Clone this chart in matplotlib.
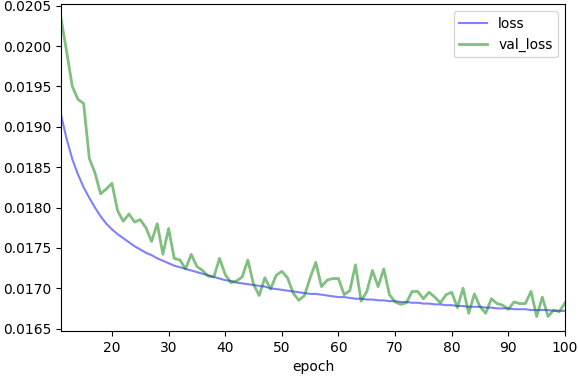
import matplotlib
matplotlib.use("Agg")
import matplotlib.pyplot as plt
import numpy as np

# epochs shown in the plot
epochs = list(range(11, 101))

# training loss (smooth curve)
loss = [
    0.01915, 0.01885, 0.01860, 0.01841, 0.01825, 0.01812, 0.01800, 0.01789, 0.01780, 0.01773,
    0.01767, 0.01762, 0.01757, 0.01752, 0.01748, 0.01744, 0.01741, 0.01737, 0.01734, 0.01731,
    0.01728, 0.01726, 0.01724, 0.01722, 0.01720, 0.01718, 0.01716, 0.01714, 0.01712, 0.01710,
    0.01709, 0.01707, 0.01706, 0.01705, 0.01704, 0.01703, 0.01702, 0.01700, 0.01699, 0.01698,
    0.01697, 0.01696, 0.01695, 0.01694, 0.01693, 0.01693, 0.01692, 0.01691, 0.01690, 0.01689,
    0.01689, 0.01688, 0.01687, 0.01687, 0.01686, 0.01686, 0.01685, 0.01685, 0.01684, 0.01684,
    0.01683, 0.01683, 0.01682, 0.01682, 0.01681, 0.01681, 0.01680, 0.01680, 0.01679, 0.01679,
    0.01678, 0.01678, 0.01677, 0.01677, 0.01677, 0.01676, 0.01676, 0.01675, 0.01675, 0.01675,
    0.01674, 0.01674, 0.01674, 0.01673, 0.01673, 0.01673, 0.01673, 0.01672, 0.01672, 0.01672,
]

# validation loss (noisy)
val_loss = [
    0.02035, 0.01993, 0.01950, 0.01934, 0.01929, 0.01861, 0.01843, 0.01817, 0.01823, 0.01830,
    0.01796, 0.01783, 0.01792, 0.01782, 0.01785, 0.01775, 0.01758, 0.01780, 0.01742, 0.01774,
    0.01737, 0.01735, 0.01724, 0.01742, 0.01727, 0.01722, 0.01715, 0.01714, 0.01737, 0.01717,
    0.01707, 0.01709, 0.01714, 0.01735, 0.01705, 0.01691, 0.01713, 0.01699, 0.01716, 0.01721,
    0.01713, 0.01694, 0.01685, 0.01691, 0.01713, 0.01732, 0.01702, 0.01710, 0.01712, 0.01712,
    0.01692, 0.01697, 0.01729, 0.01684, 0.01696, 0.01722, 0.01702, 0.01724, 0.01692, 0.01683,
    0.01680, 0.01682, 0.01696, 0.01696, 0.01687, 0.01695, 0.01689, 0.01682, 0.01692, 0.01695,
    0.01676, 0.01700, 0.01669, 0.01693, 0.01677, 0.01669, 0.01687, 0.01681, 0.01679, 0.01674,
    0.01683, 0.01681, 0.01681, 0.01696, 0.01665, 0.01689, 0.01665, 0.01673, 0.01671, 0.01682,
]

fig = plt.figure(figsize=(5.78, 3.78), dpi=100)
ax = fig.add_axes([0.1055, 0.1243, 0.872, 0.8647])

ax.plot(epochs, loss, color='b', alpha=0.5, lw=1.5, label='loss')
ax.plot(epochs, val_loss, color='g', alpha=0.5, lw=2, label='val_loss')

ax.set_xlim(11, 100)
ax.set_ylim(0.01647, 0.02052)
ax.set_xticks([20, 30, 40, 50, 60, 70, 80, 90, 100])
ax.set_yticks(np.arange(0.0165, 0.02051, 0.0005))
ax.yaxis.set_major_formatter(matplotlib.ticker.FormatStrFormatter('%.4f'))
ax.set_xlabel('epoch')
ax.legend(loc='upper right')

fig.savefig('out.png', dpi=100)
